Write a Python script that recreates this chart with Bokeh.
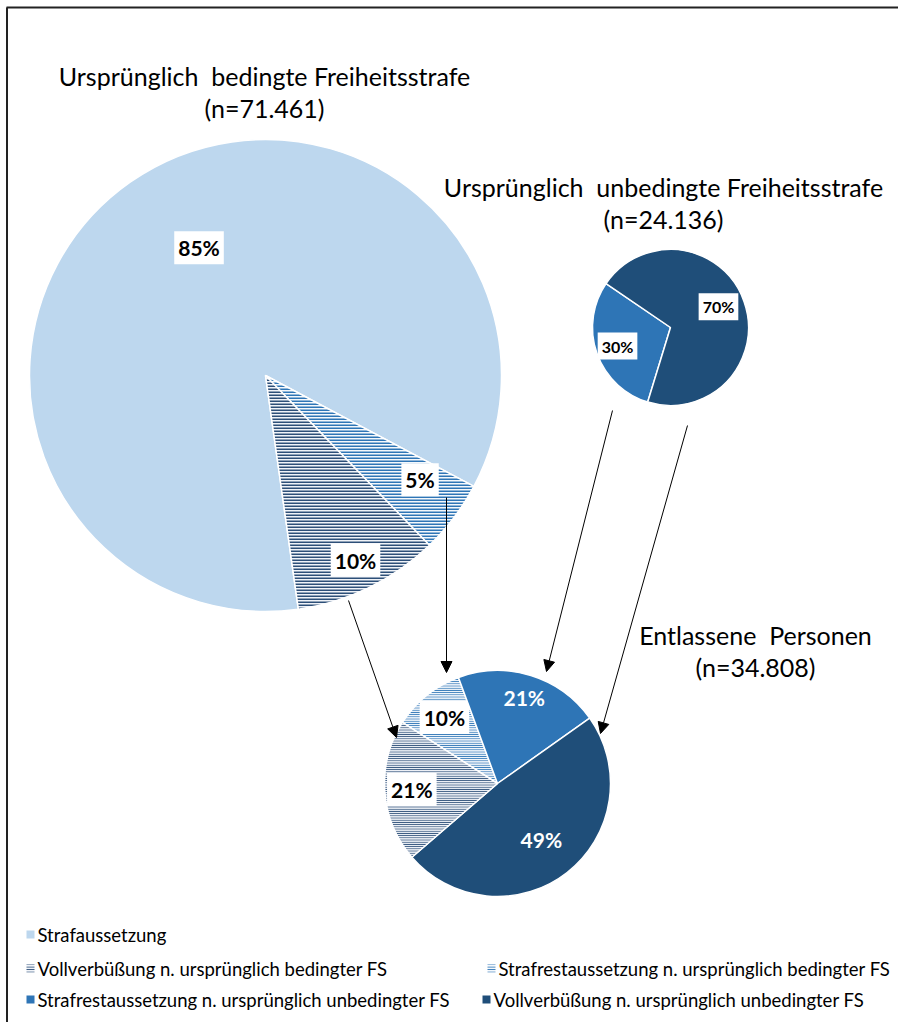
import math
from bokeh.plotting import figure
from bokeh.models import Range1d, Arrow, NormalHead
from bokeh.core.properties import value
from bokeh.embed import file_html
from bokeh.resources import INLINE

# ---------------- data ----------------
cat_bed = ["Strafaussetzung",
           "Strafrestaussetzung n. ursprünglich bedingter FS",
           "Vollverbüßung n. ursprünglich bedingter FS"]
val_bed = [85.0, 5.0, 10.0]
lab_bed = ["85%", "5%", "10%"]

cat_unb = ["Strafrestaussetzung n. ursprünglich unbedingter FS",
           "Vollverbüßung n. ursprünglich unbedingter FS"]
val_unb = [29.8, 70.2]
lab_unb = ["30%", "70%"]

cat_ent = ["Strafrestaussetzung n. ursprünglich bedingter FS",
           "Strafrestaussetzung n. ursprünglich unbedingter FS",
           "Vollverbüßung n. ursprünglich unbedingter FS",
           "Vollverbüßung n. ursprünglich bedingter FS"]
val_ent = [10.3, 20.8, 48.5, 20.4]
lab_ent = ["10%", "21%", "49%", "21%"]

NB = "\u00a0"
title_bed = ["Ursprünglich" + NB * 2 + "bedingte" + NB + "Freiheitsstrafe", "(n=71.461)"]
title_unb = ["Ursprünglich" + NB * 2 + "unbedingte" + NB + "Freiheitsstrafe", "(n=24.136)"]
title_ent = ["Entlassene" + NB * 2 + "Personen", "(n=34.808)"]

legend_labels = ["Strafaussetzung",
                 "Vollverbüßung n. ursprünglich bedingter FS",
                 "Strafrestaussetzung n. ursprünglich bedingter FS",
                 "Strafrestaussetzung n. ursprünglich unbedingter FS",
                 "Vollverbüßung n. ursprünglich unbedingter FS"]

# ---------------- styles ----------------
STYLE = {
    "Strafaussetzung": dict(fill="#BDD7EE", hatch=None),
    "Vollverbüßung n. ursprünglich bedingter FS": dict(fill="#F0F3F8", hatch="#2D4F78"),
    "Strafrestaussetzung n. ursprünglich bedingter FS": dict(fill="#F4F8FC", hatch="#2E75B6"),
    "Strafrestaussetzung n. ursprünglich unbedingter FS": dict(fill="#2E75B6", hatch=None),
    "Vollverbüßung n. ursprünglich unbedingter FS": dict(fill="#1F4E79", hatch=None),
}
FONT = value("Lato")

p = figure(width=898, height=1022, x_range=Range1d(0, 898), y_range=Range1d(-1022, 0),
           output_backend="svg", toolbar_location=None, min_border=0,
           x_axis_location=None, y_axis_location=None)
p.grid.visible = False
p.outline_line_color = None
p.background_fill_color = "white"
p.border_fill_color = "white"

# frame
p.line(x=[6, 898], y=[-7, -7], line_color="#222222", line_width=2)
p.line(x=[6.5, 6.5], y=[-7, -1022], line_color="#222222", line_width=2)


def draw_pie(cx, cy, r, cats, vals, labels, start_cw, lpos, boxed, fsize, hscale, hweight):
    total = sum(vals)
    theta = start_cw
    for c, v, lab, (fr, dang), bx in zip(cats, vals, labels, lpos, boxed):
        span = 360.0 * v / total
        a0 = math.radians(90 - (theta + span))
        a1 = math.radians(90 - theta)
        st = STYLE[c]
        kw = dict(fill_color=st["fill"], line_color="white", line_width=1.5)
        if st["hatch"]:
            kw.update(hatch_pattern="horizontal_line", hatch_color=st["hatch"],
                      hatch_scale=hscale, hatch_weight=hweight)
        p.wedge(x=cx, y=-cy, radius=r, start_angle=a0, end_angle=a1,
                direction="anticlock", **kw)
        mid = math.radians(90 - (theta + span / 2 + dang))
        lx = cx + fr * r * math.cos(mid)
        ly = -cy + fr * r * math.sin(mid)
        tkw = dict(text_align="center", text_baseline="middle", text_font=FONT,
                   text_font_style="bold", text_font_size=fsize)
        if bx:
            p.text(x=[lx], y=[ly], text=[lab], text_color="black",
                   background_fill_color="white", padding=4, **tkw)
        else:
            p.text(x=[lx], y=[ly], text=[lab], text_color="white", **tkw)
        theta += span


draw_pie(265, 375, 236, cat_bed, val_bed, lab_bed, 172.0,
         [(0.61, 7.5), (0.79, -3.0), (0.87, 0.0)], [True, True, True], "21px", 3, 2)
draw_pie(670, 327, 78, cat_unb, val_unb, lab_unb, 197.0,
         [(0.72, 0.0), (0.67, -4.0)], [True, True], "16px", 3, 2)
draw_pie(497, 783, 113, cat_ent, val_ent, lab_ent, 302.7,
         [(0.75, 0.0), (0.80, 0.0), (0.63, 0.0), (0.76, 0.0)],
         [True, False, False, True], "21px", 2.2, 1.4)

# titles
for (l1, l2), (tx, ty) in zip([title_bed, title_unb, title_ent],
                              [(264, 75), (663, 186), (755, 634)]):
    p.text(x=[tx, tx], y=[-ty, -(ty + 32)], text=[l1, l2], text_align="center",
           text_baseline="middle", text_font=FONT, text_font_size="25px", text_color="black")

# arrows
for (x0, y0, x1, y1) in [(446, 497, 446, 672), (348, 600, 396, 737),
                         (612, 410, 546, 671), (687, 425, 600, 733)]:
    p.add_layout(Arrow(end=NormalHead(size=11, fill_color="black", line_color="black"),
                       x_start=x0, y_start=-y0, x_end=x1, y_end=-y1,
                       line_color="black", line_width=1))

# legend
leg_pos = [(30, 934), (30, 968), (491, 968), (30, 999), (486, 999)]
for lab, (mx, my) in zip(legend_labels, leg_pos):
    st = STYLE[lab]
    kw = dict(fill_color=st["fill"], line_color=None)
    if st["hatch"]:
        kw.update(hatch_pattern="horizontal_line", hatch_color=st["hatch"],
                  hatch_scale=2.5, hatch_weight=1.2)
    p.rect(x=mx, y=-my, width=8, height=8, **kw)
    p.text(x=[mx + 7], y=[-my], text=[lab], text_align="left", text_baseline="middle",
           text_font=FONT, text_font_size="18.5px", text_color="black")

open("out.html", "w").write(file_html(p, INLINE))
